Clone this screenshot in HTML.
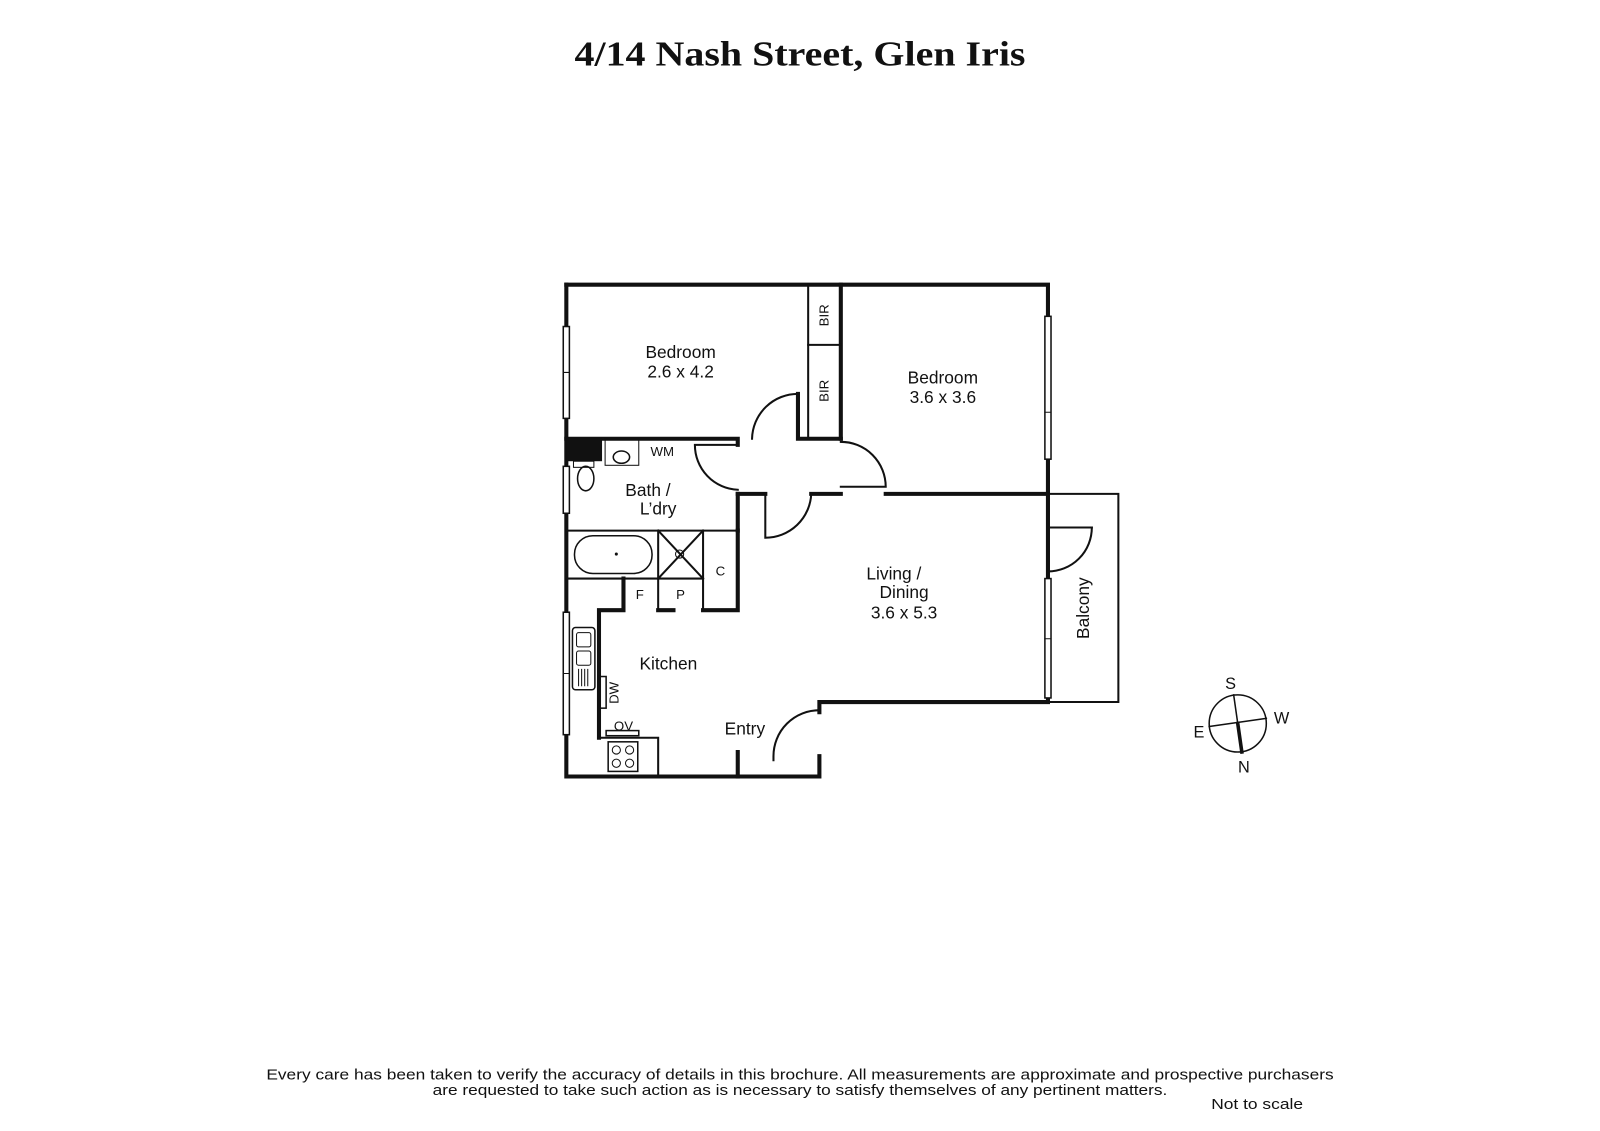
<!DOCTYPE html>
<html><head><meta charset="utf-8"><style>
html,body{margin:0;padding:0;background:#fff;}
svg{display:block}
text{font-family:"Liberation Sans",sans-serif;fill:#111}
</style></head><body>
<svg width="1600" height="1131" viewBox="0 0 1568 1108.4" xmlns="http://www.w3.org/2000/svg">
<text x="563" y="64" textLength="442" lengthAdjust="spacingAndGlyphs" style="font-family:'Liberation Serif',serif;font-weight:bold;font-size:34px">4/14 Nash Street, Glen Iris</text>
<g fill="none" stroke="#111" stroke-linecap="square">
<g stroke-width="4">
<path d="M555 279 H1027 V688 H803 V698"/>
<path d="M555 279 V761 H803 V741"/>
<path d="M555 430 H723 V436"/>
<path d="M782 386 V430 H824"/>
<path d="M824 279 V430"/>
<path d="M795 484 H824"/>
<path d="M868 484 H1027"/>
<path d="M723 484 H750"/>
<path d="M723 484 V520"/>
<path d="M723 737 V761"/>
<path d="M611 567 V598 H587 V723"/>
<path d="M723 520 V598 H689"/>
<path d="M645 598 H660"/>
</g>
<g stroke-width="2">
<path d="M792 279 V430"/>
<path d="M792 338 H824"/>
<path d="M555 520 H723"/>
<path d="M645 520 V598"/>
<path d="M689 520 V598"/>
<path d="M645 567 H689"/>
<path d="M645 520 L689 567 M689 520 L645 567"/>
<path d="M587 723 H645 V761"/>
<path d="M1027 484 H1096 V688 H1027"/>
<path d="M1027 484 V517 H1070"/>
<path d="M1027 560 V565"/>
<path d="M737 430 A45 45 0 0 1 782 386"/>
<path d="M824 433 A44 44 0 0 1 868 477 H824"/>
<path d="M681 436 H723 M681 436 A44 44 0 0 0 723 480"/>
<path d="M750 484 V527 A45 45 0 0 0 795 484"/>
<path d="M1070 517 A43 43 0 0 1 1027 560"/>
<path d="M803 696 A45 45 0 0 0 758 741 V745"/>
</g>
<path d="M555 567 H645" stroke-width="2" stroke-dasharray="3 1"/>
<g stroke-width="1.5" fill="#fff">
<rect x="552" y="320" width="6" height="90"/>
<rect x="552" y="457" width="6" height="46"/>
<rect x="552" y="600" width="6" height="120"/>
<rect x="1024" y="310" width="6" height="140"/>
<rect x="1024" y="567" width="6" height="117"/>
</g>
<path d="M1024 404 H1030 M1024 626 H1030 M552 365 H558 M552 660 H558" stroke-width="1"/>
<rect x="563" y="525" width="76" height="37" rx="18" stroke-width="1.5"/>
<circle cx="604" cy="543" r="1" fill="#111"/>
<circle cx="666" cy="543" r="4" stroke-width="1"/>
<rect x="562" y="452" width="20" height="6" stroke-width="1"/>
<ellipse cx="574" cy="469" rx="8" ry="12" stroke-width="1.5"/>
<rect x="593" y="430" width="33" height="26" stroke-width="1"/>
<ellipse cx="609" cy="448" rx="8" ry="6" stroke-width="1.5"/>
<rect x="561" y="615" width="22" height="61" rx="3" stroke-width="1.5"/>
<rect x="565" y="620" width="14" height="14" rx="2" stroke-width="1"/>
<rect x="565" y="638" width="14" height="14" rx="2" stroke-width="1"/>
<path d="M567 656 V672 M570 656 V672 M573 656 V672 M576 656 V672" stroke-width="1"/>
<rect x="587" y="663" width="7" height="31" stroke-width="1.5"/>
<rect x="594" y="716" width="32" height="5" stroke-width="1.5"/>
<rect x="596" y="727" width="29" height="29" stroke-width="1.5"/>
<circle cx="604" cy="735" r="4" stroke-width="1"/><circle cx="617" cy="735" r="4" stroke-width="1"/>
<circle cx="604" cy="748" r="4" stroke-width="1"/><circle cx="617" cy="748" r="4" stroke-width="1"/>
<circle cx="1213" cy="709" r="28" stroke-width="1.5"/>
<path d="M1209 681 L1217 737" stroke-width="1.5"/>
<path d="M1213 709 L1217 737" stroke-width="3.5"/>
<path d="M1185 712 L1241 704" stroke-width="1.5"/>
</g>
<rect x="555" y="430" width="35" height="22" fill="#111"/>
<g font-size="17" text-anchor="middle">
<text x="667" y="351">Bedroom</text><text x="667" y="370">2.6 x 4.2</text>
<text x="924" y="376">Bedroom</text><text x="924" y="395">3.6 x 3.6</text>
<text x="635" y="486">Bath /</text><text x="645" y="504">L’dry</text>
<text x="876" y="568">Living /</text><text x="886" y="586">Dining</text><text x="886" y="606">3.6 x 5.3</text>
<text x="655" y="656">Kitchen</text>
<text x="730" y="720">Entry</text>
<text x="1067" y="596" transform="rotate(-90 1067 596)">Balcony</text>
</g>
<g font-size="13" text-anchor="middle">
<text x="649" y="447">WM</text>
<text x="627" y="587">F</text><text x="667" y="587">P</text><text x="706" y="564">C</text>
<text x="611" y="716">OV</text>
<text x="812" y="309" transform="rotate(-90 812 309)">BIR</text>
<text x="812" y="383" transform="rotate(-90 812 383)">BIR</text>
<text x="606" y="679" transform="rotate(-90 606 679)">DW</text>
</g>
<g font-size="16" text-anchor="middle">
<text x="1206" y="675">S</text><text x="1256" y="709">W</text><text x="1175" y="723">E</text><text x="1219" y="757">N</text>
</g>
<g font-size="14.5">
<text x="261" y="1058" textLength="1046" lengthAdjust="spacingAndGlyphs">Every care has been taken to verify the accuracy of details in this brochure.  All measurements are approximate and prospective purchasers</text>
<text x="424" y="1073" textLength="720" lengthAdjust="spacingAndGlyphs">are requested to take such action as is necessary to satisfy themselves of any pertinent matters.</text>
<text x="1187" y="1087" textLength="90" lengthAdjust="spacingAndGlyphs">Not to scale</text>
</g>
</svg>
</body></html>
